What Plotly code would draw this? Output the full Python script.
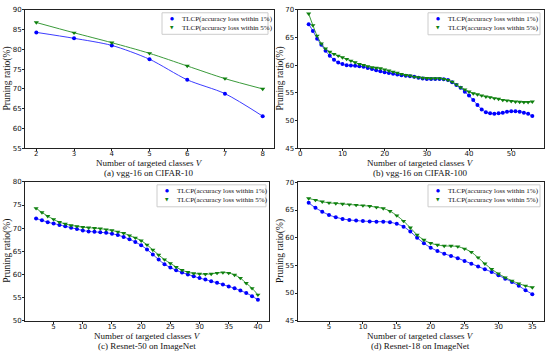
import plotly.graph_objects as go

# ---------------- data ----------------
# (a) vgg-16 on CIFAR-10
a_x = [2, 3, 4, 5, 6, 7, 8]
a_1 = [84.3, 82.8, 81.0, 77.5, 72.3, 68.8, 63.1]
a_5 = [86.8, 84.2, 81.7, 79.0, 75.8, 72.6, 70.0]

# (b) vgg-16 on CIFAR-100
b_x = list(range(2, 56))
b_1 = [67.4, 66.2, 64.8, 63.7, 62.6, 61.7, 61.0, 60.5, 60.2, 60.0,
       59.95, 59.9, 59.8, 59.7, 59.5, 59.3, 59.1, 58.9, 58.7, 58.6,
       58.45, 58.3, 58.2, 58.1, 58.0, 57.9, 57.75, 57.6, 57.5, 57.5,
       57.5, 57.5, 57.45, 57.3, 56.9, 56.4, 55.9, 55.2, 54.5, 53.7,
       52.8, 52.0, 51.5, 51.3, 51.2, 51.3, 51.4, 51.6, 51.65, 51.65,
       51.6, 51.4, 51.2, 50.8]
b_5 = [69.3, 67.2, 65.3, 63.9, 63.0, 62.4, 62.0, 61.7, 61.4, 61.1,
       60.8, 60.5, 60.2, 60.0, 59.8, 59.6, 59.5, 59.4, 59.2, 59.0,
       58.8, 58.6, 58.4, 58.2, 58.1, 57.9, 57.8, 57.7, 57.65, 57.6,
       57.6, 57.6, 57.5, 57.3, 57.0, 56.5, 56.0, 55.6, 55.2, 54.9,
       54.7, 54.5, 54.3, 54.2, 54.0, 53.9, 53.7, 53.6, 53.5, 53.4,
       53.35, 53.3, 53.3, 53.4]

# (c) Resnet-50 on ImageNet
c_x = list(range(2, 41))
c_1 = [72.1, 71.7, 71.3, 71.0, 70.7, 70.4, 70.1, 69.8, 69.5, 69.3,
       69.2, 69.1, 69.0, 68.8, 68.5, 68.1, 67.6, 67.0, 66.3, 65.4,
       64.3, 63.2, 62.2, 61.5, 60.9, 60.4, 60.0, 59.6, 59.2, 58.9,
       58.5, 58.2, 57.8, 57.4, 57.0, 56.5, 56.0, 55.3, 54.5]
c_5 = [74.3, 73.4, 72.6, 71.9, 71.3, 70.9, 70.6, 70.4, 70.2, 70.1,
       70.0, 69.9, 69.7, 69.5, 69.2, 68.9, 68.4, 67.9, 67.3, 66.4,
       65.3, 64.2, 63.2, 62.4, 61.6, 60.9, 60.5, 60.2, 60.1, 60.05,
       60.1, 60.3, 60.4, 60.3, 59.9, 59.2, 58.1, 57.0, 55.6]

# (d) Resnet-18 on ImageNet
d_x = list(range(2, 36))
d_1 = [66.3, 65.4, 64.7, 64.1, 63.7, 63.4, 63.2, 63.1, 63.0, 62.95,
       62.9, 62.9, 62.8, 62.5, 62.0, 61.1, 60.0, 59.0, 58.2, 57.6,
       57.1, 56.7, 56.3, 55.8, 55.3, 54.8, 54.3, 53.8, 53.2, 52.6,
       52.0, 51.3, 50.5, 49.8]
d_5 = [67.1, 66.8, 66.5, 66.3, 66.2, 66.1, 66.0, 65.9, 65.8, 65.7,
       65.5, 65.3, 64.8, 64.0, 63.0, 61.8, 60.5, 59.6, 59.0, 58.7,
       58.5, 58.5, 58.4, 58.0, 57.4, 56.4, 55.3, 54.3, 53.5, 52.8,
       52.2, 51.7, 51.3, 51.0]

series_names = ["TLCP(accuracy loss within 1%)", "TLCP(accuracy loss within 5%)"]
captions = ["(a) vgg-16 on CIFAR-10", "(b) vgg-16 on CIFAR-100",
            "(c) Resnet-50 on ImageNet", "(d) Resnet-18 on ImageNet"]

a_xticks = [2, 3, 4, 5, 6, 7, 8]
b_xticks = [0, 10, 20, 30, 40, 50]
c_xticks = [5, 10, 15, 20, 25, 30, 35, 40]
d_xticks = [5, 10, 15, 20, 25, 30, 35]
a_yticks = [55, 60, 65, 70, 75, 80, 85, 90]
b_yticks = [45, 50, 55, 60, 65, 70]
c_yticks = [50, 55, 60, 65, 70, 75, 80]
d_yticks = [45, 50, 55, 60, 65, 70]

# ---------------- layout ----------------
W, H = 550, 354
BLUE = "#0000ff"
BLUE_LINE = "#3c3cff"
GREEN = "#0f800f"
GREEN_LINE = "#3a9a3a"
SERIF = "Liberation Serif"
SANS = "DejaVu Sans"
TXT = "#111111"

panels = [
    dict(x=a_x, y1=a_1, y5=a_5, xt=a_xticks, yt=a_yticks, xr=[1.7, 8.3], yr=[55, 90],
         px=(25, 274), py=(6, 147.5), leg=(162, 9, 268, 31)),
    dict(x=b_x, y1=b_1, y5=b_5, xt=b_xticks, yt=b_yticks, xr=[-0.65, 57.65], yr=[45, 70],
         px=(297.5, 543.5), py=(6, 147.5), leg=(428, 9, 540, 31.5)),
    dict(x=c_x, y1=c_1, y5=c_5, xt=c_xticks, yt=c_yticks, xr=[0.1, 41.9], yr=[50, 80],
         px=(25, 269), py=(182, 324), leg=(157, 185, 266, 207.5)),
    dict(x=d_x, y1=d_1, y5=d_5, xt=d_xticks, yt=d_yticks, xr=[0.35, 36.65], yr=[45, 70],
         px=(297.5, 543.5), py=(182.5, 324), leg=(428, 185, 540, 207.5)),
]

fig = go.Figure()
annotations = []
shapes = []
layout = dict(
    width=W, height=H, margin=dict(l=0, r=0, t=0, b=0),
    paper_bgcolor="white", plot_bgcolor="white", showlegend=False,
)

def px2x(v):
    return v / W

def px2y(v):
    return 1 - v / H

for i, p in enumerate(panels):
    n = "" if i == 0 else str(i + 1)
    xa, ya = "x" + n, "y" + n
    x0, x1 = px2x(p["px"][0]), px2x(p["px"][1])
    y0, y1 = px2y(p["py"][1]), px2y(p["py"][0])
    axis_common = dict(showline=True, linecolor="#222222", linewidth=0.8, mirror=True,
                       ticks="outside", ticklen=2, tickwidth=0.8, tickcolor="#222222",
                       showgrid=False, zeroline=False,
                       tickfont=dict(family=SANS, size=7, color=TXT))
    layout["xaxis" + n] = dict(domain=[x0, x1], range=p["xr"], tickvals=p["xt"],
                               anchor=ya, ticklabelstandoff=-3, **axis_common)
    layout["yaxis" + n] = dict(domain=[y0, y1], range=p["yr"], tickvals=p["yt"],
                               anchor=xa, ticklabelstandoff=-1, **axis_common)

    # curves
    fig.add_trace(go.Scatter(x=p["x"], y=p["y1"], mode="lines+markers", xaxis=xa, yaxis=ya,
                             line=dict(color=BLUE_LINE, width=1, shape="spline", smoothing=0.8),
                             marker=dict(color=BLUE, size=4, symbol="circle"),
                             name=series_names[0]))
    fig.add_trace(go.Scatter(x=p["x"], y=p["y5"], mode="lines+markers", xaxis=xa, yaxis=ya,
                             line=dict(color=GREEN_LINE, width=1, shape="spline", smoothing=0.8),
                             marker=dict(color=GREEN, size=4.5, symbol="triangle-down"),
                             name=series_names[1]))

    # legend box (drawn manually for compact matplotlib-like spacing)
    lx0, ly0, lx1, ly1 = p["leg"]
    shapes.append(dict(type="rect", xref="paper", yref="paper",
                       x0=px2x(lx0), x1=px2x(lx1), y0=px2y(ly1), y1=px2y(ly0),
                       line=dict(color="#cccccc", width=1), fillcolor="white", layer="above"))
    rows = [ly0 + 6, ly0 + 15.5]
    glyphs = [("\u25CF", BLUE, 4.5), ("\u25BC", GREEN, 4.5)]
    for k in range(2):
        g, col, gs = glyphs[k]
        annotations.append(dict(text=g, x=px2x(lx0 + 9.5), y=px2y(rows[k]), xref="paper", yref="paper",
                                xanchor="center", yanchor="middle", showarrow=False,
                                font=dict(family=SANS, size=gs, color=col)))
        annotations.append(dict(text=series_names[k], x=px2x(lx0 + 17.5), y=px2y(rows[k]),
                                xref="paper", yref="paper", xanchor="left", yanchor="middle",
                                showarrow=False, font=dict(family=SERIF, size=7, color=TXT)))

    cx = (x0 + x1) / 2
    bottom_px = p["py"][1]
    annotations.append(dict(text="Number of targeted classes <i>V</i>", x=cx, y=px2y(bottom_px + 15.5),
                            xref="paper", yref="paper", xanchor="center", yanchor="middle",
                            showarrow=False, font=dict(family=SERIF, size=9, color=TXT)))
    annotations.append(dict(text=captions[i], x=cx, y=px2y(bottom_px + 25.5),
                            xref="paper", yref="paper", xanchor="center", yanchor="middle",
                            showarrow=False, font=dict(family=SERIF, size=9, color=TXT)))
    ymid = (y0 + y1) / 2
    ylab_x = 7.5 if i in (0, 2) else 280.5
    annotations.append(dict(text="Pruning ratio(%)", x=px2x(ylab_x), y=ymid, textangle=-90,
                            xref="paper", yref="paper", xanchor="center", yanchor="middle",
                            showarrow=False, font=dict(family=SERIF, size=9.5, color=TXT)))

layout["annotations"] = annotations
layout["shapes"] = shapes
fig.update_layout(**layout)
fig.write_html("out.html", config={"displayModeBar": False},
               post_script="document.body.style.margin='0';document.body.style.overflow='hidden';")
